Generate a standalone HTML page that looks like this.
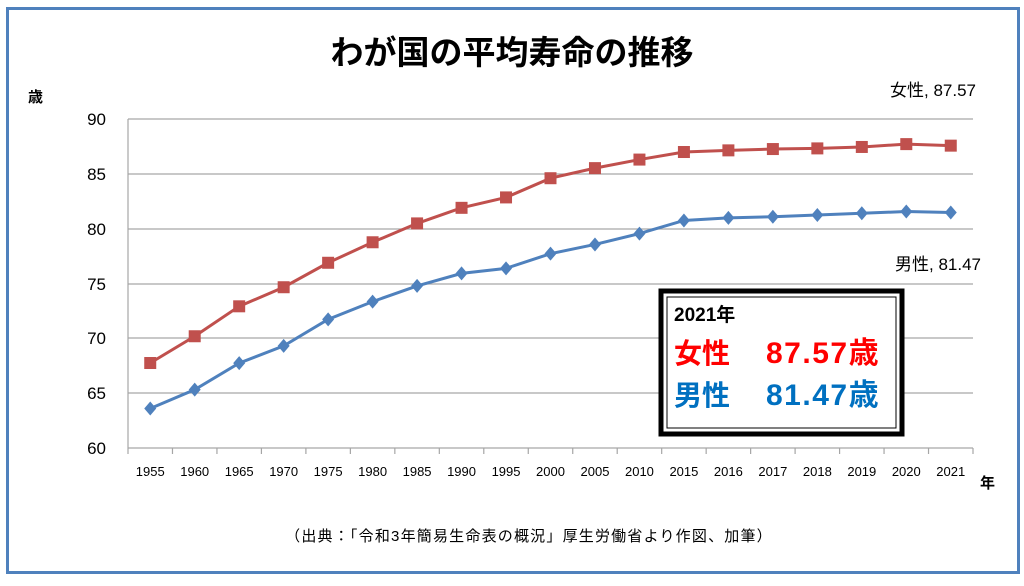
<!DOCTYPE html>
<html><head><meta charset="utf-8"><style>
body{margin:0;background:#fff;}
svg text{font-family:"Liberation Sans","Noto Sans CJK JP",sans-serif;}
</style></head><body>
<svg width="1024" height="581" xmlns="http://www.w3.org/2000/svg">
<rect x="0" y="0" width="1024" height="581" fill="#fff"/>
<rect x="7.5" y="8.5" width="1011" height="564" fill="#fff" stroke="#4f81bd" stroke-width="3"/>
<text x="512" y="64" font-size="33" font-weight="bold" text-anchor="middle" fill="#000">わが国の平均寿命の推移</text>
<text x="28" y="102" font-size="15" font-weight="bold">歳</text>
<g stroke="#a6a6a6" stroke-width="1.2">
<line x1="128" y1="119" x2="973" y2="119"/>
<line x1="128" y1="174" x2="973" y2="174"/>
<line x1="128" y1="229" x2="973" y2="229"/>
<line x1="128" y1="284" x2="973" y2="284"/>
<line x1="128" y1="338" x2="973" y2="338"/>
<line x1="128" y1="393" x2="973" y2="393"/>
<line x1="128" y1="448" x2="973" y2="448"/>
<line x1="128" y1="119" x2="128" y2="448"/>
</g>
<g font-size="17" text-anchor="end" fill="#000">
<text x="106" y="125">90</text><text x="106" y="180">85</text><text x="106" y="235">80</text>
<text x="106" y="290">75</text><text x="106" y="344">70</text><text x="106" y="399">65</text><text x="106" y="454">60</text>
</g>
<g id="ticks" stroke="#a6a6a6" stroke-width="1.2"></g>
<g id="xl" font-size="13" text-anchor="middle" fill="#000"></g>
<text x="980" y="488" font-size="15" font-weight="bold">年</text>
<polyline id="fl" fill="none" stroke="#c0504d" stroke-width="3"/>
<polyline id="ml" fill="none" stroke="#4f81bd" stroke-width="3"/>
<g id="fm" fill="#c0504d"></g>
<g id="mm" fill="#4f81bd"></g>
<text x="890" y="96" font-size="17" fill="#000">女性, 87.57</text>
<text x="895" y="270" font-size="17" fill="#000">男性, 81.47</text>
<rect x="661" y="291" width="241" height="143" fill="#fff" stroke="#000" stroke-width="5"/>
<rect x="667" y="297" width="229" height="131" fill="none" stroke="#000" stroke-width="1"/>
<text x="674" y="321" font-size="19" font-weight="bold" fill="#000">2021年</text>
<text x="674" y="363" font-size="28" font-weight="bold" fill="#ff0000">女性</text>
<text x="766" y="363" font-size="30" font-weight="bold" fill="#ff0000" letter-spacing="1.5">87.57歳</text>
<text x="674" y="405" font-size="28" font-weight="bold" fill="#0070c0">男性</text>
<text x="766" y="405" font-size="30" font-weight="bold" fill="#0070c0" letter-spacing="1.5">81.47歳</text>
<text x="529" y="541" font-size="15" text-anchor="middle" fill="#000" letter-spacing="1.2">（出典：「令和3年簡易生命表の概況」厚生労働省より作図、加筆）</text>
</svg>
<script>
var yrs=[1955,1960,1965,1970,1975,1980,1985,1990,1995,2000,2005,2010,2015,2016,2017,2018,2019,2020,2021];
var f=[67.75,70.19,72.92,74.66,76.89,78.76,80.48,81.90,82.85,84.60,85.52,86.30,86.99,87.14,87.26,87.32,87.45,87.71,87.57];
var m=[63.60,65.32,67.74,69.31,71.73,73.35,74.78,75.92,76.38,77.72,78.56,79.55,80.75,80.98,81.09,81.25,81.41,81.56,81.47];
var ns="http://www.w3.org/2000/svg",w=845/19;
function X(i){return 128+w*(i+0.5);}function Y(v){return 448-(v-60)*329/30;}
function el(t,a,p){var e=document.createElementNS(ns,t);for(var k in a)e.setAttribute(k,a[k]);document.getElementById(p).appendChild(e);return e;}
var pf=[],pm=[];
for(var i=0;i<19;i++){
 var x=128+w*(i+1);el('line',{x1:x,y1:448,x2:x,y2:454},'ticks');
 var t=el('text',{x:X(i),y:476},'xl');t.textContent=yrs[i];
 pf.push(X(i)+','+Y(f[i]));pm.push(X(i)+','+Y(m[i]));
 el('rect',{x:X(i)-6,y:Y(f[i])-6,width:12,height:12},'fm');
 var cx=X(i),cy=Y(m[i]);el('polygon',{points:(cx)+','+(cy-7)+' '+(cx+6)+','+cy+' '+cx+','+(cy+7)+' '+(cx-6)+','+cy},'mm');
}
el('line',{x1:128,y1:448,x2:128,y2:454},'ticks');
document.getElementById('fl').setAttribute('points',pf.join(' '));
document.getElementById('ml').setAttribute('points',pm.join(' '));
</script>
</body></html>
